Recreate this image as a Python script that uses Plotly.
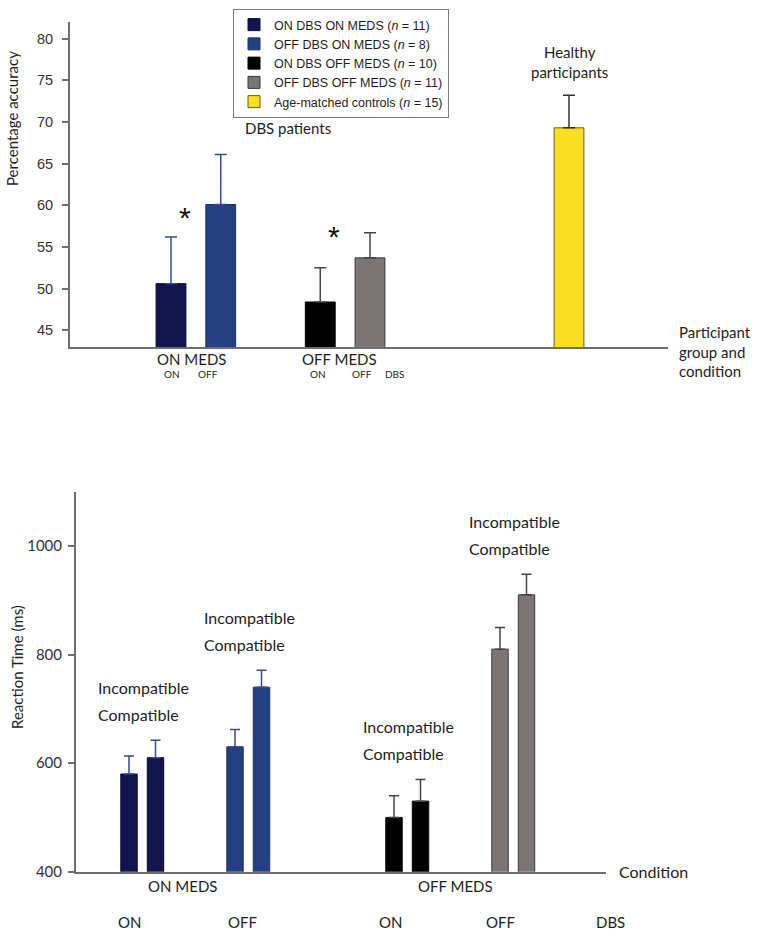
import plotly.graph_objects as go

# ---------------- data ----------------
acc_groups = ["ON DBS ON MEDS", "OFF DBS ON MEDS", "ON DBS OFF MEDS",
              "OFF DBS OFF MEDS", "Age-matched controls"]
acc_n = [11, 8, 10, 11, 15]
acc_mean = [50.6, 60.1, 48.4, 53.7, 69.3]
acc_err = [5.6, 6.0, 4.1, 3.0, 3.9]

rt_conditions = ["ON DBS ON MEDS", "OFF DBS ON MEDS", "ON DBS OFF MEDS", "OFF DBS OFF MEDS"]
rt_compatible = [580, 630, 500, 810]
rt_incompatible = [610, 740, 530, 910]
rt_err_compatible = [33, 32, 40, 40]
rt_err_incompatible = [32, 31, 40, 38]

acc_ticks = [45, 50, 55, 60, 65, 70, 75, 80]
rt_ticks = [400, 600, 800, 1000]

# ---------------- styles / layout ----------------
fill = ["#13134d", "#243f82", "#000000", "#7b7575", "#fbdd22"]
edge = ["#0b0b35", "#1b3270", "#000000", "#3a3a3a", "#6b5e10"]
errc = ["#3b4a8c", "#3b4a8c", "#444444", "#444444", "#333333"]

acc_pos = [1, 2, 4, 5, 9]          # slot positions of the top bars
rt_group_pos = [0, 4, 10, 14]      # slot positions of the bottom bar pairs

AX = "#6e6e6e"
SANS = "Liberation Sans, Arial, sans-serif"
CAL = "Lato, Open Sans, sans-serif"

W, H = 760, 935      # target picture size
FIG_H = 943          # rendered height (the capture is rescaled to 935)


def px(x):   # picture x pixel -> paper
    return x / W


def py(y):   # picture y pixel -> paper
    return 1 - y / H


fig = go.Figure()

for i, g in enumerate(acc_groups):
    fig.add_trace(go.Bar(
        x=[acc_pos[i]], y=[acc_mean[i]], width=0.6,
        name=f"{g} (<i>n</i> = {acc_n[i]})",
        marker=dict(color=fill[i], line=dict(color=edge[i], width=1)),
        error_y=dict(type="data", symmetric=False, array=[acc_err[i]], arrayminus=[0],
                     color=errc[i], thickness=1.5, width=6),
        xaxis="x", yaxis="y", hoverinfo="skip"))

for i, c in enumerate(rt_conditions):
    p = rt_group_pos[i]
    fig.add_trace(go.Bar(
        x=[p, p + 1], y=[rt_compatible[i], rt_incompatible[i]], width=0.62,
        name=c, showlegend=False,
        marker=dict(color=fill[i], line=dict(color=edge[i], width=1)),
        error_y=dict(type="data", symmetric=False,
                     array=[rt_err_compatible[i], rt_err_incompatible[i]], arrayminus=[0, 0],
                     color=errc[i], thickness=1.5, width=5),
        xaxis="x2", yaxis="y2", hoverinfo="skip"))

TXT = "#1e1e1e"
ann = []
# top chart texts
ann.append(dict(text="DBS patients", xref="paper", yref="paper", x=px(243), y=py(128),
                xanchor="left", yanchor="middle", showarrow=False, font=dict(family=CAL, size=15, color=TXT)))
ann.append(dict(text="Healthy<br>participants", xref="x", yref="y", x=acc_pos[4], y=77.2,
                xanchor="center", yanchor="middle", showarrow=False, font=dict(family=CAL, size=15, color=TXT)))
star_y = [max(acc_mean[0], acc_mean[1]) - 1.6, acc_mean[3] + 2.6]
for k, gx in enumerate([(acc_pos[0] + acc_pos[1]) / 2 - 0.22, (acc_pos[2] + acc_pos[3]) / 2 - 0.22]):
    ann.append(dict(text="*", xref="x", yref="y", x=gx, y=star_y[k], xanchor="center", yanchor="middle",
                    showarrow=False, font=dict(family=SANS, size=30, color="#111")))
ann.append(dict(text="Participant<br>group and<br>condition", xref="paper", yref="paper", x=px(677), y=py(351),
                xanchor="left", yanchor="middle", align="left", showarrow=False,
                font=dict(family=CAL, size=15, color=TXT)))
ann.append(dict(text="Percentage accuracy", xref="paper", yref="paper", x=px(12), y=py(119), textangle=-90,
                xanchor="center", yanchor="middle", showarrow=False, font=dict(family=CAL, size=15, color=TXT)))
for txt, xx in [("ON MEDS", 1.42), ("OFF MEDS", 4.38)]:
    ann.append(dict(text=txt, xref="x", yref="paper", x=xx, y=py(359), xanchor="center", yanchor="middle",
                    showarrow=False, font=dict(family=CAL, size=15, color=TXT)))
for txt, xx in [("ON", 1.03), ("OFF", 1.75), ("ON", 3.95), ("OFF", 4.84), ("DBS", 5.51)]:
    ann.append(dict(text=txt, xref="x", yref="paper", x=xx, y=py(374), xanchor="center", yanchor="middle",
                    showarrow=False, font=dict(family=CAL, size=10, color=TXT)))

# bottom chart texts
for i in range(4):
    p = rt_group_pos[i]
    top = rt_incompatible[i] + rt_err_incompatible[i]
    ann.append(dict(text="Incompatible", xref="x2", yref="y2", x=p - 1.25, y=top + 97, xanchor="left",
                    yanchor="middle", showarrow=False, font=dict(family=CAL, size=16, color=TXT)))
    ann.append(dict(text="Compatible", xref="x2", yref="y2", x=p - 1.25, y=top + 47, xanchor="left",
                    yanchor="middle", showarrow=False, font=dict(family=CAL, size=16, color=TXT)))
ann.append(dict(text="Condition", xref="paper", yref="paper", x=px(617), y=py(871), xanchor="left",
                yanchor="middle", showarrow=False, font=dict(family=CAL, size=16, color=TXT)))
ann.append(dict(text="Reaction Time (ms)", xref="paper", yref="paper", x=px(17), y=py(667), textangle=-90,
                xanchor="center", yanchor="middle", showarrow=False, font=dict(family=CAL, size=15, color=TXT)))
for txt, xx in [("ON MEDS", 2.03), ("OFF MEDS", 12.32)]:
    ann.append(dict(text=txt, xref="x2", yref="paper", x=xx, y=py(886), xanchor="center", yanchor="middle",
                    showarrow=False, font=dict(family=CAL, size=15, color=TXT)))
for txt, xx in [("ON", 0.02), ("OFF", 4.3), ("ON", 9.88), ("OFF", 14.02)]:
    ann.append(dict(text=txt, xref="x2", yref="paper", x=xx, y=py(922), xanchor="center", yanchor="middle",
                    showarrow=False, font=dict(family=CAL, size=15, color=TXT)))
ann.append(dict(text="DBS", xref="paper", yref="paper", x=px(610), y=py(922), xanchor="center",
                yanchor="middle", showarrow=False, font=dict(family=CAL, size=15, color=TXT)))

fig.update_layout(
    width=W, height=FIG_H, margin=dict(l=0, r=0, t=0, b=0),
    paper_bgcolor="white", plot_bgcolor="white", barmode="overlay",
    showlegend=True,
    legend=dict(x=px(233), y=py(9), xanchor="left", yanchor="top", bgcolor="white",
                bordercolor="#7a7a7a", borderwidth=1, font=dict(family=SANS, size=12.5, color=TXT),
                tracegroupgap=0),
    xaxis=dict(domain=[px(70), px(668)], range=[-1.03, 10.99], anchor="y", showline=True, linecolor=AX,
               linewidth=2, showticklabels=False, ticks="", showgrid=False, zeroline=False),
    yaxis=dict(domain=[py(347), py(22)], range=[43, 82], anchor="x", tickvals=acc_ticks,
               ticks="outside", ticklen=6, tickwidth=1.5, tickcolor=AX, showline=True, linecolor=AX, linewidth=2,
               ticklabelstandoff=6,
               showgrid=False, zeroline=False, tickfont=dict(family=SANS, size=14.5, color="#333")),
    xaxis2=dict(domain=[px(76), px(606)], range=[-2, 18], anchor="y2", showline=True, linecolor=AX,
                linewidth=2, showticklabels=False, ticks="", showgrid=False, zeroline=False),
    yaxis2=dict(domain=[py(871.7), py(491.7)], range=[400, 1100], anchor="x2", tickvals=rt_ticks,
                ticks="outside", ticklen=6, tickwidth=1.5, tickcolor=AX, showline=True, linecolor=AX, linewidth=2,
                ticklabelstandoff=3,
                showgrid=False, zeroline=False, tickfont=dict(family=CAL, size=15, color="#333")),
    annotations=ann,
)

# remove the default page margin so the figure starts at the window corner
fig.write_html("out.html", config={"displayModeBar": False},
               post_script="document.body.style.margin='0';document.body.style.overflow='hidden';")
